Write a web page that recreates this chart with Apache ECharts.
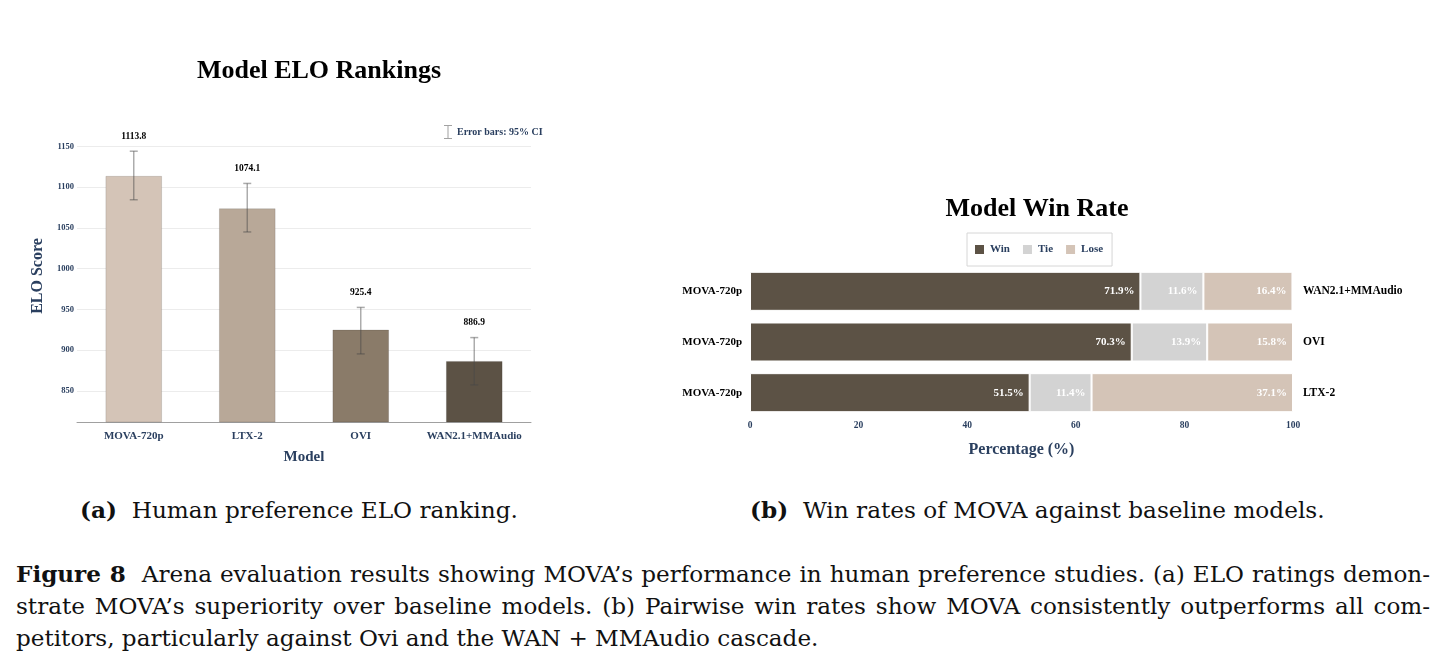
<!DOCTYPE html>
<html>
<head>
<meta charset="utf-8">
<script src="https://cdn.jsdelivr.net/npm/echarts@6/dist/echarts.min.js"></script>
<style>
  html, body { margin: 0; padding: 0; background: #fff; }
  #chart { position: absolute; left: 0; top: 0; width: 1446px; height: 480px; }
  .cap { position: absolute; font-family: 'DejaVu Serif', serif; color: #111; white-space: nowrap; font-size: 23.2px; line-height: 32px; }
  .fig { position: absolute; left: 16px; top: 558px; width: 1414px; }
  .fig div { font-family: 'DejaVu Serif', serif; color: #111; white-space: nowrap; font-size: 23.1px; line-height: 32px; }
  .fig .j { text-align: justify; text-align-last: justify; }
</style>
</head>
<body>
<div id="chart"></div>
<div class="cap" style="left:80px; top:494px;"><b>(a)</b>&nbsp; Human preference ELO ranking.</div>
<div class="cap" style="left:750px; top:494px;"><b>(b)</b>&nbsp; Win rates of MOVA against baseline models.</div>
<div class="fig">
  <div class="j"><b>Figure 8</b>&nbsp; Arena evaluation results showing MOVA’s performance in human preference studies. (a) ELO ratings demon-</div>
  <div class="j">strate MOVA’s superiority over baseline models. (b) Pairwise win rates show MOVA consistently outperforms all com-</div>
  <div>petitors, particularly against Ovi and the WAN + MMAudio cascade.</div>
</div>
<script>
// left panel: ELO rankings
const eloModels = ['MOVA-720p', 'LTX-2', 'OVI', 'WAN2.1+MMAudio'];
const eloScores = [1113.8, 1074.1, 925.4, 886.9];
const eloLow = [1084.5, 1045.0, 895.5, 857.5];
const eloHigh = [1144.0, 1104.5, 952.5, 915.5];
const eloColors = ['#d4c4b7', '#b8a898', '#8a7b69', '#5c5245'];

// right panel: win rates (top row first)
const winOpponents = ['WAN2.1+MMAudio', 'OVI', 'LTX-2'];
const winModel = ['MOVA-720p', 'MOVA-720p', 'MOVA-720p'];
const winRates = [71.9, 70.3, 51.5];
const tieRates = [11.6, 13.9, 11.4];
const loseRates = [16.4, 15.8, 37.1];

const FONT = '"Liberation Serif", "Times New Roman", serif';
const NAVY = '#2a3f5f';
const ERR = 'rgba(70,70,70,0.45)';

const chart = echarts.init(document.getElementById('chart'));

const bold = (size, color) => ({ fontFamily: FONT, fontWeight: 'bold', fontSize: size, color: color });

chart.setOption({
  animation: false,
  backgroundColor: '#fff',
  title: [
    { text: 'Model ELO Rankings', left: 314, top: 53, textAlign: 'center', textStyle: bold(26, '#000') },
    { text: 'Model Win Rate', left: 1032, top: 191, textAlign: 'center', textStyle: bold(26, '#000') }
  ],
  legend: [
    {
      left: 439, top: 120, selectedMode: false, itemWidth: 8, itemHeight: 15,
      data: [{ name: 'Error bars: 95% CI', icon: 'path://M0,0H8V1H4.5V13H8V14H0V13H3.5V1H0Z', itemStyle: { color: 'rgba(70,70,70,0.5)' } }],
      textStyle: bold(10, NAVY)
    },
    {
      left: 967, top: 233, selectedMode: false, itemWidth: 11, itemHeight: 11, itemGap: 11,
      padding: [10, 9, 10, 6], borderColor: '#d6d6d6', borderWidth: 1,
      icon: 'rect',
      data: ['Win', 'Tie', 'Lose'],
      textStyle: bold(11, NAVY)
    }
  ],
  grid: [
    { left: 77, right: 915, top: 130, bottom: 58 },
    { left: 750, right: 153, top: 266, bottom: 62 }
  ],
  xAxis: [
    {
      type: 'category', gridIndex: 0, data: eloModels,
      name: 'Model', nameLocation: 'middle', nameGap: 28, nameTextStyle: bold(15, NAVY),
      axisLine: { lineStyle: { color: '#a0a0a0', width: 1 } },
      axisTick: { show: false },
      axisLabel: Object.assign({ margin: 9, interval: 0 }, bold(11, NAVY))
    },
    {
      type: 'value', gridIndex: 1, min: 0, max: 100, interval: 20,
      name: 'Percentage (%)', nameLocation: 'middle', nameGap: 24, nameTextStyle: bold(16, NAVY),
      axisLine: { show: false }, axisTick: { show: false }, splitLine: { show: false },
      axisLabel: Object.assign({ margin: 3 }, bold(9.5, NAVY))
    }
  ],
  yAxis: [
    {
      type: 'value', gridIndex: 0, min: 812, max: 1170, splitNumber: 7,
      name: 'ELO Score', nameLocation: 'middle', nameGap: 31, nameTextStyle: bold(16, NAVY),
      axisLine: { show: false }, axisTick: { show: false },
      splitLine: { lineStyle: { color: '#ececec' }, showMinLine: false, showMaxLine: false },
      axisLabel: Object.assign({ margin: 3, showMinLabel: false, showMaxLabel: false, formatter: v => String(v) }, bold(8.5, NAVY))
    },
    {
      type: 'category', gridIndex: 1, data: winOpponents, inverse: true,
      axisLine: { show: false }, axisTick: { show: false },
      axisLabel: Object.assign({ margin: 8, formatter: (v, i) => winModel[i] }, bold(11, '#000'))
    },
    {
      type: 'category', gridIndex: 1, data: winOpponents, inverse: true, position: 'right',
      axisLine: { show: false }, axisTick: { show: false },
      axisLabel: Object.assign({ margin: 10 }, bold(11.5, '#000'))
    }
  ],
  series: [
    {
      type: 'bar', xAxisIndex: 0, yAxisIndex: 0, barWidth: '50%',
      data: eloScores.map((v, i) => ({ value: v, itemStyle: { color: eloColors[i] } })),
      itemStyle: { borderColor: 'rgba(0,0,0,0.12)', borderWidth: 1 }
    },
    {
      type: 'custom', name: 'Error bars: 95% CI', xAxisIndex: 0, yAxisIndex: 0, z: 5,
      itemStyle: { color: ERR },
      encode: { x: 0, y: [1, 2] },
      data: eloModels.map((m, i) => [i, eloLow[i], eloHigh[i]]),
      renderItem: (params, api) => {
        const i = api.value(0);
        const lo = api.coord([i, api.value(1)]);
        const hi = api.coord([i, api.value(2)]);
        const cap = 4;
        const st = { stroke: ERR, lineWidth: 1.5 };
        return {
          type: 'group',
          children: [
            { type: 'line', shape: { x1: hi[0], y1: hi[1], x2: lo[0], y2: lo[1] }, style: st },
            { type: 'line', shape: { x1: hi[0] - cap, y1: hi[1], x2: hi[0] + cap, y2: hi[1] }, style: st },
            { type: 'line', shape: { x1: lo[0] - cap, y1: lo[1], x2: lo[0] + cap, y2: lo[1] }, style: st },
            {
              type: 'text', x: hi[0], y: hi[1] - 15,
              style: { text: eloScores[i].toFixed(1), fill: '#000', font: 'bold 9.5px ' + FONT, align: 'center', verticalAlign: 'middle' }
            }
          ]
        };
      }
    },
    {
      type: 'bar', name: 'Win', stack: 'w', xAxisIndex: 1, yAxisIndex: 1, barWidth: '77%', data: winRates,
      itemStyle: { color: '#5c5245', borderColor: '#fff', borderWidth: 1 },
      label: Object.assign({ show: true, position: 'insideRight', distance: 6, formatter: '{c}%' }, bold(11, '#fff'))
    },
    {
      type: 'bar', name: 'Tie', stack: 'w', xAxisIndex: 1, yAxisIndex: 1, data: tieRates,
      itemStyle: { color: '#d3d3d3', borderColor: '#fff', borderWidth: 1 },
      label: Object.assign({ show: true, position: 'insideRight', distance: 6, formatter: '{c}%' }, bold(11, '#fff'))
    },
    {
      type: 'bar', name: 'Lose', stack: 'w', xAxisIndex: 1, yAxisIndex: 1, data: loseRates,
      itemStyle: { color: '#d4c4b7', borderColor: '#fff', borderWidth: 1 },
      label: Object.assign({ show: true, position: 'insideRight', distance: 6, formatter: '{c}%' }, bold(11, '#fff'))
    }
  ]
});

window.addEventListener('resize', () => chart.resize());
</script>
</body>
</html>
